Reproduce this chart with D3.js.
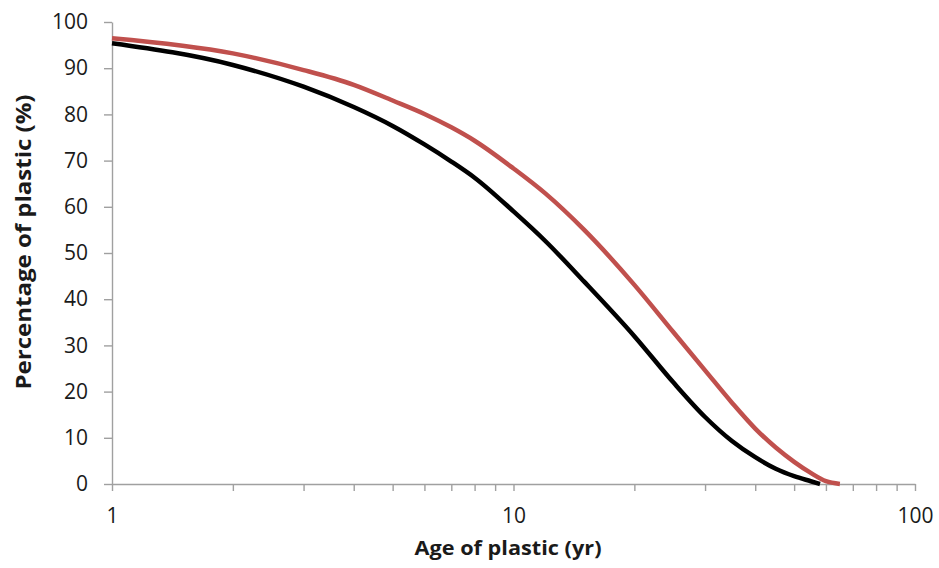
<!DOCTYPE html>
<html>
<head>
<meta charset="utf-8">
<script src="https://cdn.jsdelivr.net/npm/d3@7"></script>
<style>
  body { margin: 0; background: #fff; }
  svg { display: block; }
</style>
</head>
<body>
<svg id="chart" width="939" height="568"></svg>
<script>
// values
const blackYears = [1, 2, 3, 4, 5, 6, 7, 8, 10, 12, 15, 20, 25, 30, 35, 40, 45, 50, 55, 58];
const blackValues = [95.4, 90.7, 86.0, 81.6, 77.5, 73.5, 69.8, 66.3, 59.0, 52.6, 43.8, 32.0, 22.0, 14.5, 9.3, 5.8, 3.3, 1.7, 0.6, 0];
const redYears = [1, 2, 3, 4, 5, 6, 7, 8, 10, 12, 15, 20, 25, 30, 35, 40, 45, 50, 55, 60, 65];
const redValues = [96.5, 93.2, 89.6, 86.4, 83.0, 80.1, 77.2, 74.3, 68.3, 62.9, 55.0, 43.1, 32.9, 24.6, 17.6, 12.0, 7.9, 4.8, 2.4, 0.6, 0];
const xTicks = [1, 2, 3, 4, 5, 6, 7, 8, 9, 10, 20, 30, 40, 50, 60, 70, 80, 90, 100];
const xLabels = [1, 10, 100];
const yTicks = d3.range(0, 101, 10);

const svg = d3.select("#chart");
const margin = ({top: 22, right: 24, bottom: 84, left: 112});
const width = 939, height = 568;
const font = "'Open Sans', 'Noto Sans', sans-serif";

const x = d3.scaleLog()
    .domain([1, 100])
    .range([margin.left, width - margin.right]);

const y = d3.scaleLinear()
    .domain([0, 100])
    .range([height - margin.bottom, margin.top]);

//axes
const xAxis = g => g
    .attr("transform", `translate(0,${height - margin.bottom})`)
    .call(d3.axisBottom(x).tickValues(xTicks)
        .tickFormat(d => xLabels.includes(d) ? d : "")
        .tickSize(7).tickSizeOuter(0).tickPadding(17));

const yAxis = g => g
    .attr("transform", `translate(${margin.left},0)`)
    .call(d3.axisLeft(y).tickValues(yTicks)
        .tickSize(8).tickSizeOuter(0).tickPadding(16));

svg.append("g").call(yAxis);
svg.append("g").call(xAxis);

svg.selectAll(".domain, .tick line")
    .attr("stroke", "#a0a0a0")
    .attr("stroke-width", 1.4);
svg.selectAll(".tick text")
    .attr("fill", "#1a1a1a")
    .style("font", `21px ${font}`);

//lines
const line = d3.line()
    .x(d => x(d[0]))
    .y(d => y(d[1]))
    .curve(d3.curveMonotoneX);

svg.append("path")
    .datum(d3.zip(redYears, redValues))
    .attr("fill", "none")
    .attr("stroke", "#c0504d")
    .attr("stroke-width", 4.5)
    .attr("stroke-linejoin", "round")
    .attr("d", line);

svg.append("path")
    .datum(d3.zip(blackYears, blackValues))
    .attr("fill", "none")
    .attr("stroke", "#000")
    .attr("stroke-width", 4.5)
    .attr("stroke-linejoin", "round")
    .attr("d", line);

//axis titles
svg.append("text")
    .attr("x", 508)
    .attr("y", 555)
    .attr("text-anchor", "middle")
    .attr("textLength", 187)
    .attr("lengthAdjust", "spacingAndGlyphs")
    .attr("fill", "#1a1a1a")
    .style("font", `bold 20px ${font}`)
    .text("Age of plastic (yr)");

svg.append("text")
    .attr("transform", "translate(31,242) rotate(-90)")
    .attr("text-anchor", "middle")
    .attr("textLength", 295)
    .attr("lengthAdjust", "spacingAndGlyphs")
    .attr("fill", "#1a1a1a")
    .style("font", `bold 21px ${font}`)
    .text("Percentage of plastic (%)");
</script>
</body>
</html>
